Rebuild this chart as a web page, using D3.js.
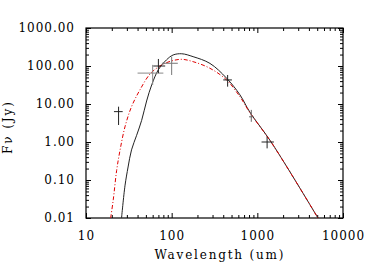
<!DOCTYPE html>
<html>
<head>
<meta charset="utf-8">
<script src="https://cdn.jsdelivr.net/npm/d3@7"></script>
<style>
  body { margin: 0; background: #fff; }
  text { font-family: "DejaVu Serif", serif; fill: #000; }
</style>
</head>
<body>
<script>
var w = 370, h = 273;

// model curves (wavelength um, flux Jy)
var blackWave = [26, 28.5, 31, 34, 39, 44.6, 51, 58.5, 70, 87, 104, 131, 178, 280, 437, 627, 815, 1480, 5100];
var blackFlux = [0.01, 0.07, 0.22, 0.62, 1.5, 3.7, 12, 32, 80, 145, 195, 210, 176, 117, 48, 17.4, 6.2, 0.93, 0.01];
var redWave = [19.4, 20.8, 22.8, 25, 28.5, 34, 42.6, 56, 73, 95.5, 131, 178, 280, 437, 627, 815, 1480, 5100];
var redFlux = [0.01, 0.03, 0.18, 0.62, 2.5, 8.5, 23.5, 62, 100, 132, 150, 130, 87, 43, 15.5, 6.0, 0.92, 0.01];

// photometry with error ranges
var obsWave = [24, 60, 70, 100, 450, 850, 1300];
var obsWaveLo = [21.2, 40, 61, 77, 400, 800, 1120];
var obsWaveHi = [26.8, 80, 84, 118, 505, 900, 1560];
var obsFlux = [6.3, 65, 100, 118, 43, 4.6, 1.0];
var obsFluxLo = [2.8, 31.6, 65, 58, 28.6, 3.4, 0.68];
var obsFluxHi = [8.5, 107, 153, 176, 58, 7.0, 1.38];
var obsColor = ["#222", "#888", "#222", "#777", "#222", "#666", "#222"];

var xTicks = [10, 100, 1000, 10000];
var xTickLabels = ["10", "100", "1000", "10000"];
var yTicks = [0.01, 0.1, 1, 10, 100, 1000];
var yTickLabels = ["0.01", "0.10", "1.00", "10.00", "100.00", "1000.00"];

var L = 86, R = 343, T = 28, B = 218;

var svg = d3.select("body").append("svg")
    .attr("width", w)
    .attr("height", h);

var x = d3.scaleLog().domain([10, 10000]).range([L, R]);
var y = d3.scaleLog().domain([0.01, 1000]).range([B, T]);

svg.append("defs").append("clipPath").attr("id", "clip")
    .append("rect").attr("x", L).attr("y", T).attr("width", R - L).attr("height", B - T);

// minor ticks
var xMinor = x.ticks().filter(function(d) { return xTicks.indexOf(d) < 0; });
var yMinor = y.ticks().filter(function(d) { return yTicks.indexOf(d) < 0; });

function axisG(axis, tx, ty) {
  var g = svg.append("g").attr("transform", "translate(" + tx + "," + ty + ")").call(axis);
  g.select(".domain").remove();
  g.selectAll("line").attr("stroke", "#000");
  return g;
}

// bottom / top
axisG(d3.axisBottom(x).tickValues(xMinor).tickSize(-3).tickFormat(""), 0, B);
axisG(d3.axisTop(x).tickValues(xMinor).tickSize(-3).tickFormat(""), 0, T);
axisG(d3.axisTop(x).tickValues(xTicks).tickSize(-5).tickFormat(""), 0, T);
var xb = axisG(d3.axisBottom(x).tickValues(xTicks).tickSize(-5).tickPadding(13)
    .tickFormat(function(d, i) { return xTickLabels[i]; }), 0, B);
xb.selectAll("text").style("font-size", "12px").style("letter-spacing", "1px").attr("fill", "#000");

// left / right
axisG(d3.axisLeft(y).tickValues(yMinor).tickSize(-3).tickFormat(""), L, 0);
axisG(d3.axisRight(y).tickValues(yMinor).tickSize(-3).tickFormat(""), R, 0);
axisG(d3.axisRight(y).tickValues(yTicks).tickSize(-5).tickFormat(""), R, 0);
var yl = axisG(d3.axisLeft(y).tickValues(yTicks).tickSize(-5).tickPadding(11)
    .tickFormat(function(d, i) { return yTickLabels[i]; }), L, 0);
yl.selectAll("text").style("font-size", "12px").style("letter-spacing", "1px").attr("fill", "#000");

// frame
svg.append("rect")
    .attr("x", L).attr("y", T).attr("width", R - L).attr("height", B - T)
    .attr("fill", "none").attr("stroke", "#000").attr("stroke-width", 1.2);

var line = d3.line()
    .x(function(d) { return x(d[0]); })
    .y(function(d) { return y(d[1]); })
    .curve(d3.curveCatmullRom.alpha(0.5));

var plot = svg.append("g").attr("clip-path", "url(#clip)");

plot.append("path")
    .datum(blackWave.map(function(d, i) { return [d, blackFlux[i]]; }))
    .attr("d", line)
    .attr("fill", "none")
    .attr("stroke", "#222")
    .attr("stroke-width", 1);

plot.append("path")
    .datum(redWave.map(function(d, i) { return [d, redFlux[i]]; }))
    .attr("d", line)
    .attr("fill", "none")
    .attr("stroke", "#e00000")
    .attr("stroke-width", 1)
    .attr("stroke-dasharray", "4,2,1,2");

// error crosses
var crosses = plot.selectAll("g.obs").data(obsWave).enter().append("g").attr("class", "obs");
crosses.append("line")
    .attr("x1", function(d, i) { return x(obsWaveLo[i]); })
    .attr("x2", function(d, i) { return x(obsWaveHi[i]); })
    .attr("y1", function(d, i) { return y(obsFlux[i]); })
    .attr("y2", function(d, i) { return y(obsFlux[i]); })
    .attr("stroke", function(d, i) { return obsColor[i]; });
crosses.append("line")
    .attr("x1", function(d) { return x(d); })
    .attr("x2", function(d) { return x(d); })
    .attr("y1", function(d, i) { return y(obsFluxLo[i]); })
    .attr("y2", function(d, i) { return y(obsFluxHi[i]); })
    .attr("stroke", function(d, i) { return obsColor[i]; });

// titles
svg.append("text")
    .text("Wavelength (um)")
    .attr("x", 219).attr("y", 259)
    .attr("text-anchor", "middle")
    .attr("textLength", 129)
    .style("font-size", "12px");

svg.append("text")
    .text("Fν (Jy)")
    .attr("transform", "translate(12,128) rotate(-90)")
    .attr("text-anchor", "middle")
    .attr("textLength", 52)
    .style("font-size", "12px");
</script>
</body>
</html>
